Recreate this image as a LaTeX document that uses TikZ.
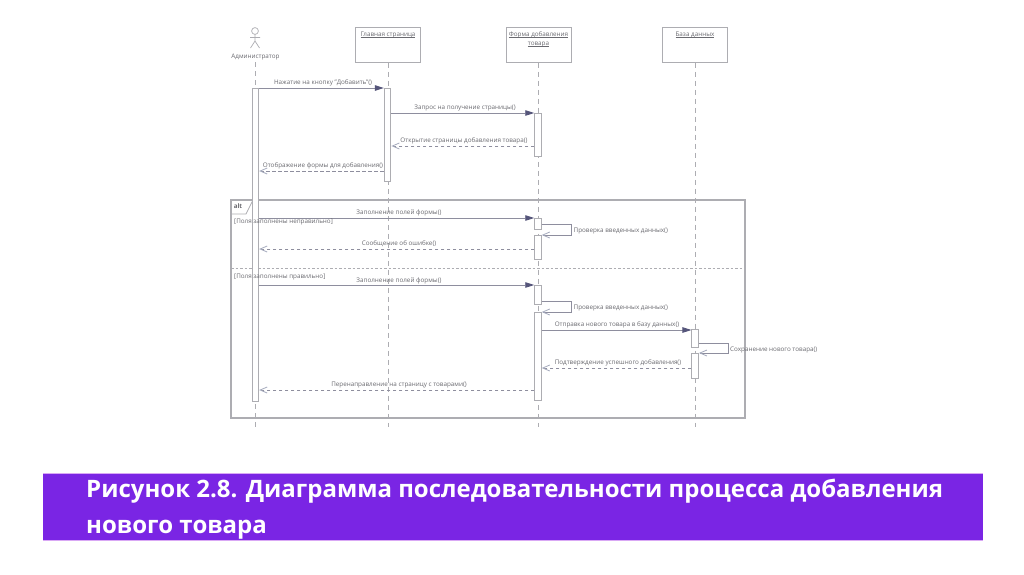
\documentclass[tikz,border=0pt]{standalone}
\usepackage{fontspec}
\setmainfont{Open Sans}
\usetikzlibrary{arrows.meta}
\definecolor{linegray}{HTML}{ADADB2}
\definecolor{msggray}{HTML}{8E8E9E}
\definecolor{txtgray}{HTML}{6A6A70}
\definecolor{tipdark}{HTML}{55557A}
\definecolor{tiplight}{HTML}{A4A9BC}
\definecolor{banner}{HTML}{7A25E4}
\definecolor{bannerline}{HTML}{D9A8F5}
\newcommand\ulbl[1]{\setbox0=\hbox{#1}\leavevmode\rlap{\color{txtgray}\rule[-1.3pt]{\wd0}{0.35pt}}\box0}
\tikzset{
  x=1pt,y=-1pt,
  lbl/.style={inner sep=0pt,font=\fontsize{6.3}{9}\selectfont,text=txtgray,align=center,yshift=-0.6pt},
  lblleft/.style={lbl,anchor=west},
  objbox/.style={draw=linegray,fill=white,line width=0.9pt,rectangle,inner sep=0pt,minimum width=65pt,minimum height=35pt,anchor=north},
  actbar/.style={draw=linegray,fill=white,line width=0.9pt,rectangle,inner sep=0pt,minimum width=6.6pt,anchor=north},
  lifeline/.style={draw=linegray,line width=0.8pt,dash pattern=on 5pt off 4pt},
  callmsg/.style={draw=msggray,line width=0.9pt,-{Triangle[length=9pt,width=5.5pt,color=tipdark]}},
  retmsg/.style={draw=msggray,line width=0.8pt,dash pattern=on 3.5pt off 2.5pt,-{Straight Barb[length=7pt,width=6pt,color=tiplight,line width=0.8pt]}},
  selfmsg/.style={draw=msggray,line width=0.8pt,-{Straight Barb[length=7pt,width=6pt,color=tiplight,line width=0.8pt]}},
  framebox/.style={draw=linegray,line width=1.2pt},
  divider/.style={draw=linegray,line width=0.7pt,dash pattern=on 2.5pt off 2pt},
  actor/.style={draw=linegray,line width=0.7pt},
  captxt/.style={inner sep=0pt,anchor=base west,text=white,font=\fontsize{24}{36}\selectfont\bfseries},
}
\begin{document}
\begin{tikzpicture}
\useasboundingbox (0,0) rectangle (1024,574);
\fill[white] (0,0) rectangle (1024,574);

% objects
\node[objbox] (home) at (388,27) {};
\node[objbox] (form) at (538.5,27) {};
\node[objbox] (db) at (695,27) {};
\node[lbl] (homet) at (388,34) {\ulbl{Главная страница}};
\node[lbl] (formt) at (538.5,38.5) {\ulbl{Форма добавления}\\\ulbl{товара}};
\node[lbl] (dbt) at (695,34) {\ulbl{База данных}};

% actor
\coordinate (hd) at (255,31);
\draw[actor] (hd) circle (3.4);
\coordinate (neck) at (255,34.4);
\coordinate (hip) at (255,41);
\coordinate (armL) at (250,37.5);
\coordinate (armR) at (260,37.5);
\coordinate (legL) at (250.5,48);
\coordinate (legR) at (259.5,48);
\draw[actor] (neck) -- (hip) (armL) -- (armR) (legL) -- (hip) -- (legR);
\node[lbl] (admin) at (255.5,56.5) {Администратор};
\coordinate (admtop) at (255,62);
\coordinate (bottom) at (255,427);

% lifelines
\draw[lifeline] (admtop) -- (bottom);
\draw[lifeline] (home.south) -- (home.south |- bottom);
\draw[lifeline] (form.south) -- (form.south |- bottom);
\draw[lifeline] (db.south) -- (db.south |- bottom);

% alt frame
\coordinate (fTL) at (231,200);
\coordinate (fBR) at (745,418);
\coordinate (tabA) at (253,200);
\coordinate (tabB) at (246,214);
\coordinate (tabC) at (231,214);
\draw[framebox] (fTL) rectangle (fBR);
\draw[draw=linegray,line width=0.7pt] (tabA) -- (tabB) -- (tabC);
\node[inner sep=0pt,font=\fontsize{6.3}{8}\selectfont\bfseries,text=txtgray] (alt) at (238,206) {alt};
\coordinate (divL) at (231,268);
\coordinate (divR) at (745,268);
\draw[divider] (divL) -- (divR);

% activations
\node[actbar,minimum height=313pt] (aAdm) at (255.4,88) {};
\node[actbar,minimum height=93pt] (aHome) at (387.6,88) {};
\node[actbar,minimum height=43pt] (aF1) at (538,113) {};
\node[actbar,minimum height=11pt] (aF2) at (538,218) {};
\node[actbar,minimum height=24pt] (aF3) at (538,235) {};
\node[actbar,minimum height=19pt] (aF4) at (538,285) {};
\node[actbar,minimum height=88pt] (aF5) at (538,312) {};
\node[actbar,minimum height=18pt] (aD1) at (695.2,329) {};
\node[actbar,minimum height=25pt] (aD2) at (695.2,353) {};

% message rows
\foreach \n/\y in {a/88,b/113,c/146,d/171,e/218,f/249,g/285,h/330,i/368,j/390,s/224,t/235,u/301,v/312,w/343,z/353}
  \coordinate (y\n) at (0,\y);
\coordinate (loopX) at (571,0);
\coordinate (loopY) at (728,0);

\draw[callmsg] (aAdm.east |- ya) -- (aHome.west |- ya);
\draw[callmsg] (aHome.east |- yb) -- (aF1.west |- yb);
\draw[retmsg] (aF1.west |- yc) -- (aHome.east |- yc);
\draw[retmsg] (aHome.west |- yd) -- (aAdm.east |- yd);
\draw[callmsg] (aAdm.east |- ye) -- (aF2.west |- ye);
\draw[retmsg] (aF3.west |- yf) -- (aAdm.east |- yf);
\draw[callmsg] (aAdm.east |- yg) -- (aF4.west |- yg);
\draw[callmsg] (aF5.east |- yh) -- (aD1.west |- yh);
\draw[retmsg] (aD2.west |- yi) -- (aF5.east |- yi);
\draw[retmsg] (aF5.west |- yj) -- (aAdm.east |- yj);
\draw[selfmsg] (aF2.east |- ys) -- (loopX |- ys) -- (loopX |- yt) -- (aF3.east |- yt);
\draw[selfmsg] (aF4.east |- yu) -- (loopX |- yu) -- (loopX |- yv) -- (aF5.east |- yv);
\draw[selfmsg] (aD1.east |- yw) -- (loopY |- yw) -- (loopY |- yz) -- (aD2.east |- yz);

% labels
\node[lbl] (l1) at (323,82) {Нажатие на кнопку "Добавить"()};
\node[lbl] (l2) at (465,107) {Запрос на получение страницы()};
\node[lbl] (l3) at (464,140.5) {Открытие страницы добавления товара()};
\node[lbl] (l4) at (323,165.5) {Отображение формы для добавления()};
\node[lblleft] (g1) at (234,221) {[Поля заполнены неправильно]};
\node[lbl] (l5) at (399,212) {Заполнение полей формы()};
\node[lblleft] (l6) at (573.5,230) {Проверка введенных данных()};
\node[lbl] (l7) at (399,243.5) {Сообщение об ошибке()};
\node[lblleft] (g2) at (234,276) {[Поля заполнены правильно]};
\node[lbl] (l8) at (399,280) {Заполнение полей формы()};
\node[lblleft] (l9) at (573.5,307) {Проверка введенных данных()};
\node[lbl] (l10) at (617,324.5) {Отправка нового товара в базу данных()};
\node[lblleft] (l11) at (730,349) {Сохранение нового товара()};
\node[lbl] (l12) at (618,362) {Подтверждение успешного добавления()};
\node[lbl] (l13) at (399,384) {Перенаправление на страницу с товарами()};

% banner
\node[rectangle,fill=banner,draw=none,inner sep=0pt,minimum width=940pt,minimum height=67pt,anchor=north west] (band) at (43,473) {};
\draw[bannerline,line width=0.8pt] (band.north west) -- (band.north east);
\draw[bannerline,line width=0.8pt] (band.south west) -- (band.south east);
\node[captxt] (cap1) at (86,497) {Рисунок 2.8. Диаграмма последовательности процесса добавления};
\node[captxt] (cap2) at (86,533) {нового товара};
\end{tikzpicture}
\end{document}
